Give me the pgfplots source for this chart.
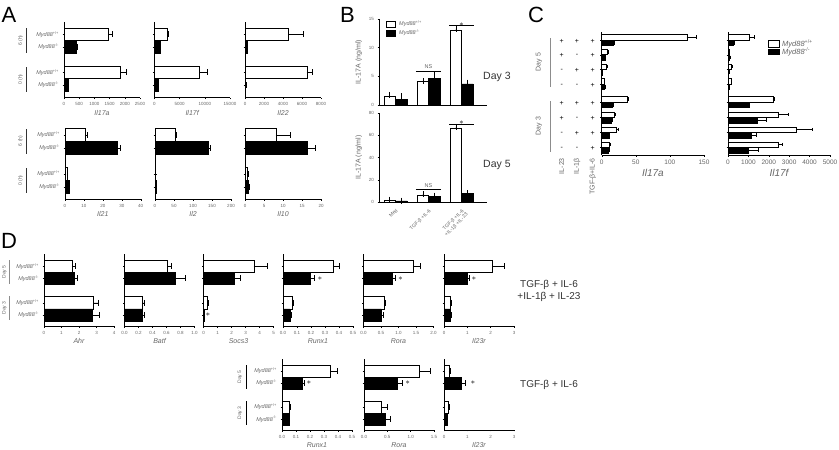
\documentclass[border=0pt]{standalone}
\usepackage{fontspec}
\setmainfont{Liberation Sans}
\usepackage{pgfplots}
\pgfplotsset{compat=1.18}
\definecolor{lab}{gray}{0.4}
\newcommand{\WT}{\textit{Myd88}\textsuperscript{+/+}}
\newcommand{\KO}{\textit{Myd88}\textsuperscript{-/-}}
\pgfplotsset{
 base/.style={
   scale only axis, anchor=north west, clip=false,
   axis x line*=bottom, axis y line*=left,
   axis line style={line width=0.6pt},
   tick style={line width=0.4pt, black},
   major tick length=1.5pt, tick align=outside,
   tick label style={font=\fontsize{4.5}{5}\selectfont, text=lab},
   /pgf/number format/assume math mode=true,
   /pgf/number format/1000 sep={},
   scaled ticks=false,
   xlabel style={font=\fontsize{7}{8}\selectfont\itshape, text=lab, yshift=2.5pt},
   ylabel style={font=\fontsize{7}{8}\selectfont, text=lab},
 },
 hb/.style={base, xmin=0, ytick={1,2,4,5}, yticklabels={},
   yticklabel style={font=\fontsize{5.5}{6}\selectfont, text=lab},
   bar width=1},
 fx/.style={xticklabel style={/pgf/number format/.cd, fixed, fixed zerofill, precision=1}},
 wbar/.style={xbar, bar shift=0pt, fill=white, draw=black, line width=0.5pt,
   error bars/.cd, x dir=plus, x explicit, error mark=|,
   error bar style={line width=0.5pt, black}, error mark options={black, line width=0.5pt, mark size=#1}},
 wbar/.default=3pt,
 kbar/.style={xbar, bar shift=0pt, fill=black, draw=black, line width=0.5pt,
   error bars/.cd, x dir=plus, x explicit, error mark=|,
   error bar style={line width=0.5pt, black}, error mark options={black, line width=0.5pt, mark size=#1}},
 kbar/.default=3pt,
 wvbar/.style={ybar, bar shift=0pt, fill=white, draw=black, line width=0.5pt,
   error bars/.cd, y dir=plus, y explicit, error mark=-,
   error bar style={line width=0.5pt, black}, error mark options={black, line width=0.5pt, mark size=3pt}},
 kvbar/.style={ybar, bar shift=0pt, fill=black, draw=black, line width=0.5pt,
   error bars/.cd, y dir=plus, y explicit, error mark=-,
   error bar style={line width=0.5pt, black}, error mark options={black, line width=0.5pt, mark size=3pt}},
}
\begin{document}
\begin{tikzpicture}
\path[use as bounding box] (0,0) rectangle (839pt,-450pt);
\tikzset{lt/.style={text=lab, font=\fontsize{5}{6}\selectfont, inner sep=0pt}}
% ---------------- Panel A ----------------
\node[font=\fontsize{22}{22}\selectfont] at (9pt,-15pt) {A};
\begin{axis}[hb, at={(64pt,-21.7pt)}, width=76pt, height=76pt, xmax=2500, xtick={0,500,...,2500},
  ymin=0, ymax=6, yticklabels={\KO,\WT,\KO,\WT}, xlabel={Il17a}]
\addplot[wbar] coordinates {(1450,5) +- (150,0) (1850,2) +- (200,0)};
\addplot[kbar] coordinates {(400,4) +- (20,0) (130,1) +- (20,0)};
\end{axis}
\begin{axis}[hb, at={(154.3pt,-21.7pt)}, width=75.7pt, height=76pt, xmax=15000, xtick={0,5000,10000,15000},
  ymin=0, ymax=6, xlabel={Il17f}]
\addplot[wbar] coordinates {(2600,5) +- (250,0) (8900,2) +- (1600,0)};
\addplot[kbar] coordinates {(1100,4) +- (100,0) (750,1) +- (100,0)};
\end{axis}
\begin{axis}[hb, at={(245pt,-21.7pt)}, width=76pt, height=76pt, xmax=8000, xtick={0,2000,...,8000},
  ymin=0, ymax=6, xlabel={Il22}]
\addplot[wbar] coordinates {(4550,5) +- (1550,0) (6500,2) +- (600,0)};
\addplot[kbar] coordinates {(200,4) +- (50,0) (70,1) +- (20,0)};
\end{axis}
\begin{axis}[hb, at={(65pt,-128pt)}, width=75.7pt, height=71.3pt, xmax=40, xtick={0,10,...,40},
  ymin=0.05, ymax=5.55, yticklabels={\KO,\WT,\KO,\WT}, xlabel={Il21}]
\addplot[wbar] coordinates {(10.5,5) +- (1.0,0) (1.0,2) +- (0.2,0)};
\addplot[kbar] coordinates {(27.5,4) +- (1.5,0) (2.0,1) +- (0.2,0)};
\end{axis}
\begin{axis}[hb, at={(155pt,-128pt)}, width=76pt, height=71.3pt, xmax=200, xtick={0,50,...,200},
  ymin=0.05, ymax=5.55, xlabel={Il2}]
\addplot[wbar] coordinates {(52,5) +- (3,0) (1.5,2) +- (0.3,0)};
\addplot[kbar] coordinates {(140,4) +- (5,0) (2.5,1) +- (0.5,0)};
\end{axis}
\begin{axis}[hb, at={(245pt,-128pt)}, width=76pt, height=71.3pt, xmax=20, xtick={0,5,...,20},
  ymin=0.05, ymax=5.55, xlabel={Il10}]
\addplot[wbar] coordinates {(8.1,5) +- (3.9,0) (0.7,2) +- (0.1,0)};
\addplot[kbar] coordinates {(16.5,4) +- (2.1,0) (0.9,1) +- (0.1,0)};
\end{axis}
\foreach \yc/\ya/\yb/\t in {40.5/28/53/6 (h), 79.5/67/92/0 (h), 141/129/154/6 (h), 180.5/168/193/0 (h)}{
  \node[lt, rotate=90] at (20.5pt,-\yc pt) {\t};
  \draw[line width=0.6pt, black!80] (26.7pt,-\ya pt) -- (26.7pt,-\yb pt);
}
% ---------------- Panel B ----------------
\node[font=\fontsize{22}{22}\selectfont] at (347.5pt,-15pt) {B};
\begin{axis}[base, at={(379pt,-19pt)}, width=108pt, height=86pt, xmin=-0.5, xmax=2.77,
  ymin=0, ymax=15, ytick={0,5,10,15}, xtick=\empty, bar width=0.35, ylabel={IL-17A (ng/ml)}]
\addplot[wvbar] coordinates {(-0.175,1.5) +- (0,0.25) (0.825,4.1) +- (0,0.1) (1.825,13.0) +- (0,0.3)};
\addplot[kvbar] coordinates {(0.175,1.0) +- (0,0.5) (1.175,4.6) +- (0,0.6) (2.175,3.7) +- (0,0.2)};
\draw[line width=0.5pt] (axis cs:0.62,5.9) -- (axis cs:1.38,5.9);
\node[lt, anchor=south, font=\fontsize{5.5}{6}\selectfont] at (axis cs:1,6.3) {NS};
\draw[line width=0.5pt] (axis cs:1.62,13.95) -- (axis cs:2.38,13.95);
\node[anchor=south, inner sep=0pt, font=\fontsize{8}{8}\selectfont] at (axis cs:2,13.7) {$\ast$};
\end{axis}
\begin{axis}[base, at={(379pt,-113pt)}, width=108pt, height=89pt, xmin=-0.5, xmax=2.77,
  ymin=0, ymax=80, ytick={0,20,...,80}, xtick={0,1,2}, xtick style={draw=none},
  xticklabels={Med, TGF-β +IL-6, {TGF-β +IL-6\\+IL-1β +IL-23}},
  xticklabel style={rotate=45, anchor=north east, align=right, font=\fontsize{5}{5.5}\selectfont},
  bar width=0.35, ylabel={IL-17A (ng/ml)}]
\addplot[wvbar] coordinates {(-0.175,2.0) +- (0,0.2) (0.825,6.5) +- (0,0.5) (1.825,66) +- (0,1.5)};
\addplot[kvbar] coordinates {(0.175,1.0) +- (0,0.2) (1.175,5.0) +- (0,0.8) (2.175,7.5) +- (0,0.3)};
\draw[line width=0.5pt] (axis cs:0.62,11.8) -- (axis cs:1.38,11.8);
\node[lt, anchor=south, font=\fontsize{5.5}{6}\selectfont] at (axis cs:1,12.8) {NS};
\draw[line width=0.5pt] (axis cs:1.62,69.5) -- (axis cs:2.38,69.5);
\node[anchor=south, inner sep=0pt, font=\fontsize{8}{8}\selectfont] at (axis cs:2,69.3) {$\ast$};
\end{axis}
\draw[fill=white, line width=0.5pt] (386pt,-21pt) rectangle (395pt,-27pt);
\node[lt, anchor=west, font=\fontsize{5.5}{6}\selectfont] at (399pt,-24pt) {\WT};
\draw[fill=black, line width=0.5pt] (386pt,-30.5pt) rectangle (395pt,-36pt);
\node[lt, anchor=west, font=\fontsize{5.5}{6}\selectfont] at (399pt,-33pt) {\KO};
\node[anchor=west, text=black!80, font=\fontsize{10.5}{12}\selectfont, inner sep=0pt] at (483pt,-77pt) {Day 3};
\node[anchor=west, text=black!80, font=\fontsize{10.5}{12}\selectfont, inner sep=0pt] at (483pt,-165pt) {Day 5};
% ---------------- Panel C ----------------
\node[font=\fontsize{22}{22}\selectfont] at (536pt,-15pt) {C};
\begin{axis}[base, at={(601.7pt,-31.7pt)}, width=102.3pt, height=123.3pt, xmin=0, xmax=150,
  xtick={0,50,100,150}, ymin=0, ymax=123.3, ytick={115,100.3,85.7,71,53,37.7,22.7,7.7}, yticklabels={},
  tick label style={font=\fontsize{6.5}{7}\selectfont, text=lab},
  xlabel style={font=\fontsize{10}{11}\selectfont\itshape, text=lab}, bar width=5.5, xlabel={Il17a}]
\addplot[wbar=1.8pt] coordinates {(125,117.75) +- (13,0) (8,103.05) +- (1,0) (7,88.45) +- (1,0) (3,73.75) +- (0.5,0)
  (38,55.75) +- (1.5,0) (19,40.45) +- (1,0) (22,25.45) +- (2,0) (11,10.45) +- (1,0)};
\addplot[kbar=1.8pt] coordinates {(17,112.25) +- (1.5,0) (5,97.55) +- (0.5,0) (1,82.95) +- (0.2,0) (4,68.25) +- (0.5,0)
  (15,50.25) +- (2.5,0) (14,34.95) +- (1,0) (10.5,19.95) +- (0.5,0) (10,4.95) +- (0.5,0)};
\end{axis}
\begin{axis}[base, at={(728pt,-31.7pt)}, width=102pt, height=123.3pt, xmin=0, xmax=5000,
  xtick={0,1000,...,5000}, ymin=0, ymax=123.3, ytick={115,100.3,85.7,71,53,37.7,22.7,7.7}, yticklabels={},
  tick label style={font=\fontsize{6.5}{7}\selectfont, text=lab},
  xlabel style={font=\fontsize{10}{11}\selectfont\itshape, text=lab}, bar width=5.5, xlabel={Il17f}]
\addplot[wbar=1.8pt] coordinates {(1050,117.75) +- (220,0) (60,103.05) +- (20,0) (180,88.45) +- (30,0) (150,73.75) +- (20,0)
  (2200,55.75) +- (50,0) (2450,40.45) +- (500,0) (3350,25.45) +- (780,0) (2450,10.45) +- (200,0)};
\addplot[kbar=1.8pt] coordinates {(260,112.25) +- (40,0) (80,97.55) +- (20,0) (30,82.95) +- (10,0) (40,68.25) +- (10,0)
  (1030,50.25) +- (20,0) (1420,34.95) +- (450,0) (1140,19.95) +- (250,0) (1000,4.95) +- (500,0)};
\end{axis}
\draw[fill=white, line width=0.5pt] (768pt,-40.5pt) rectangle (779pt,-47pt);
\node[lt, anchor=west, font=\fontsize{7.5}{8}\selectfont] at (782pt,-43.5pt) {\WT};
\draw[fill=black, line width=0.5pt] (768pt,-49pt) rectangle (779pt,-54.5pt);
\node[lt, anchor=west, font=\fontsize{7.5}{8}\selectfont] at (782pt,-52pt) {\KO};
\foreach \yy/\a/\b in {41/+/+, 55.7/+/-, 70.3/-/+, 85/-/-, 103/+/+, 118.3/+/-, 133.3/-/+, 148.3/-/-}{
  \node[inner sep=0pt, font=\fontsize{7}{7}\selectfont] at (561.7pt,-\yy pt) {\a};
  \node[inner sep=0pt, font=\fontsize{7}{7}\selectfont] at (577pt,-\yy pt) {\b};
  \node[inner sep=0pt, font=\fontsize{7}{7}\selectfont] at (592.7pt,-\yy pt) {+};
}
\node[lt, rotate=90, anchor=east, font=\fontsize{7}{8}\selectfont] at (561.7pt,-158pt) {IL-23};
\node[lt, rotate=90, anchor=east, font=\fontsize{7}{8}\selectfont] at (577pt,-158pt) {IL-1β};
\node[lt, rotate=90, anchor=east, font=\fontsize{7}{8}\selectfont] at (592.7pt,-158pt) {TGF-β+IL-6};
\node[lt, rotate=90, font=\fontsize{7}{8}\selectfont] at (539pt,-62pt) {Day 5};
\node[lt, rotate=90, font=\fontsize{7}{8}\selectfont] at (539pt,-126pt) {Day 3};
\draw[line width=0.6pt, black!45] (550pt,-38pt) -- (550pt,-87pt);
\draw[line width=0.6pt, black!45] (550pt,-101pt) -- (550pt,-152pt);
% ---------------- Panel D ----------------
\node[font=\fontsize{22}{22}\selectfont] at (9pt,-241pt) {D};
\begin{axis}[hb, at={(44pt,-254pt)}, width=70pt, height=72pt, xmax=4, xtick={0,1,...,4},
  ymin=0.1, ymax=6, yticklabels={\KO,\WT,\KO,\WT}, xlabel={Ahr}]
\addplot[wbar] coordinates {(1.6,5) +- (0.18,0) (2.82,2) +- (0.3,0)};
\addplot[kbar] coordinates {(1.75,4) +- (0.17,0) (2.78,1) +- (0.37,0)};
\end{axis}
\begin{axis}[hb, fx, at={(124.5pt,-254pt)}, width=70pt, height=72pt, xmax=1, xtick={0,0.2,...,1.0},
  ymin=0.1, ymax=6, xlabel={Batf}]
\addplot[wbar] coordinates {(0.61,5) +- (0.06,0) (0.26,2) +- (0.025,0)};
\addplot[kbar] coordinates {(0.73,4) +- (0.14,0) (0.25,1) +- (0.035,0)};
\end{axis}
\begin{axis}[hb, at={(203.5pt,-254pt)}, width=70pt, height=72pt, xmax=5, xtick={0,1,...,5},
  ymin=0.1, ymax=6, xlabel={Socs3}]
\addplot[wbar] coordinates {(3.6,5) +- (0.95,0) (0.25,2) +- (0.08,0)};
\addplot[kbar] coordinates {(2.2,4) +- (0.42,0) (0.07,1) +- (0.01,0)};
\node[font=\fontsize{8}{8}\selectfont, inner sep=0pt] at (axis cs:0.32,1) {$\ast$};
\end{axis}
\begin{axis}[hb, fx, at={(283pt,-254pt)}, width=70pt, height=72pt, xmax=0.5, xtick={0,0.1,...,0.5},
  ymin=0.1, ymax=6, xlabel={Runx1}]
\addplot[wbar] coordinates {(0.362,5) +- (0.04,0) (0.068,2) +- (0.008,0)};
\addplot[kbar] coordinates {(0.198,4) +- (0.022,0) (0.05,1) +- (0.01,0)};
\node[font=\fontsize{8}{8}\selectfont, inner sep=0pt] at (axis cs:0.265,4) {$\ast$};
\end{axis}
\begin{axis}[hb, fx, at={(363.5pt,-254pt)}, width=70pt, height=72pt, xmax=2, xtick={0,0.5,...,2.0},
  ymin=0.1, ymax=6, xlabel={Rora}]
\addplot[wbar] coordinates {(1.43,5) +- (0.18,0) (0.6,2) +- (0.02,0)};
\addplot[kbar] coordinates {(0.82,4) +- (0.09,0) (0.51,1) +- (0.05,0)};
\node[font=\fontsize{8}{8}\selectfont, inner sep=0pt] at (axis cs:1.06,4) {$\ast$};
\end{axis}
\begin{axis}[hb, at={(444pt,-254pt)}, width=70pt, height=72pt, xmax=3, xtick={0,1,2,3},
  ymin=0.1, ymax=6, xlabel={Il23r}]
\addplot[wbar] coordinates {(2.06,5) +- (0.52,0) (0.28,2) +- (0.03,0)};
\addplot[kbar] coordinates {(0.99,4) +- (0.11,0) (0.26,1) +- (0.04,0)};
\node[font=\fontsize{8}{8}\selectfont, inner sep=0pt] at (axis cs:1.29,4) {$\ast$};
\end{axis}
\begin{axis}[hb, fx, at={(282pt,-359pt)}, width=70pt, height=71pt, xmax=0.5, xtick={0,0.1,...,0.5},
  ymin=0.1, ymax=6, yticklabels={\KO,\WT,\KO,\WT}, xlabel={Runx1}]
\addplot[wbar] coordinates {(0.345,5) +- (0.048,0) (0.052,2) +- (0.008,0)};
\addplot[kbar] coordinates {(0.148,4) +- (0.012,0) (0.05,1) +- (0.005,0)};
\node[font=\fontsize{8}{8}\selectfont, inner sep=0pt] at (axis cs:0.193,4) {$\ast$};
\end{axis}
\begin{axis}[hb, fx, at={(364pt,-359pt)}, width=70pt, height=71pt, xmax=1.5, xtick={0,0.5,...,1.5},
  ymin=0.1, ymax=6, xlabel={Rora}]
\addplot[wbar] coordinates {(1.19,5) +- (0.22,0) (0.38,2) +- (0.11,0)};
\addplot[kbar] coordinates {(0.71,4) +- (0.11,0) (0.46,1) +- (0.11,0)};
\node[font=\fontsize{8}{8}\selectfont, inner sep=0pt] at (axis cs:0.94,4) {$\ast$};
\end{axis}
\begin{axis}[hb, at={(444pt,-359pt)}, width=70pt, height=71pt, xmax=3, xtick={0,1,2,3},
  ymin=0.1, ymax=6, xlabel={Il23r}]
\addplot[wbar] coordinates {(0.21,5) +- (0.06,0) (0.17,2) +- (0.04,0)};
\addplot[kbar] coordinates {(0.76,4) +- (0.13,0) (0.13,1) +- (0.02,0)};
\node[font=\fontsize{8}{8}\selectfont, inner sep=0pt] at (axis cs:1.24,4) {$\ast$};
\end{axis}
\node[lt, rotate=90] at (4.5pt,-272pt) {Day 5};
\node[lt, rotate=90] at (4.5pt,-308pt) {Day 3};
\draw[line width=0.6pt, black!45] (9pt,-260pt) -- (9pt,-284pt);
\draw[line width=0.6pt, black!45] (9pt,-296pt) -- (9pt,-320pt);
\node[lt, rotate=90] at (240pt,-377pt) {Day 5};
\node[lt, rotate=90] at (240pt,-413pt) {Day 3};
\draw[line width=0.6pt, black] (246.5pt,-365pt) -- (246.5pt,-389pt);
\draw[line width=0.6pt, black] (246.5pt,-401pt) -- (246.5pt,-425pt);
\node[align=center, text=black!80, font=\fontsize{10}{12}\selectfont] at (549pt,-291pt) {TGF-β + IL-6\\+IL-1β + IL-23};
\node[text=black!80, font=\fontsize{10}{12}\selectfont] at (549pt,-385pt) {TGF-β + IL-6};
\end{tikzpicture}
\end{document}
